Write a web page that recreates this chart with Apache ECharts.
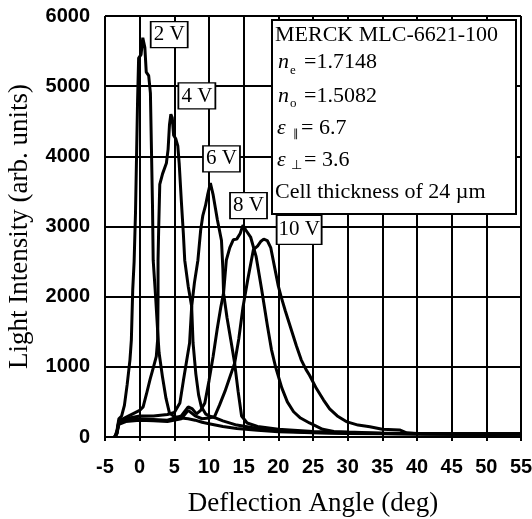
<!DOCTYPE html>
<html>
<head>
<meta charset="utf-8">
<script src="https://cdn.jsdelivr.net/npm/echarts@6/dist/echarts.min.js"></script>
<style>
  html, body { margin: 0; padding: 0; background: #fff; }
  #chart { width: 532px; height: 519px; }
</style>
</head>
<body>
<div id="chart"></div>
<script>
// deflection angle (deg), light intensity (arb. units) for each drive voltage
const curve2V = [[-3.6, 0], [-3.3, 80], [-3.0, 260], [-2.6, 300], [-2.2, 450], [-1.8, 750], [-1.4, 1100], [-1.2, 1380],
  [-1.0, 2100], [-0.8, 2500], [-0.6, 3200], [-0.45, 4000], [-0.3, 4800], [-0.15, 5400], [0.2, 5450], [0.45, 5690],
  [0.75, 5550], [0.95, 5200], [1.3, 5150], [1.55, 4900], [1.7, 4100], [1.85, 3300], [1.95, 2520], [2.3, 2000],
  [2.6, 1500], [2.8, 1200], [3.3, 850], [3.8, 550], [4.3, 340], [5, 290], [6, 270], [7, 260], [8, 240], [9, 210],
  [10, 190], [12, 150], [14, 120], [17, 95], [20, 75], [25, 60], [30, 50], [35, 45], [40, 40], [45, 40], [50, 35], [55, 40]]
const curve4V = [[-3.6, 0], [-3.3, 60], [-3.0, 230], [-2, 280], [-1, 330], [0, 380], [0.5, 430], [1.0, 620], [1.5, 820],
  [2.0, 1000], [2.4, 1150], [2.6, 1400], [2.65, 2000], [2.65, 2520], [2.75, 3000], [2.9, 3600], [3.3, 3750], [3.85, 3900],
  [4.1, 4100], [4.3, 4450], [4.5, 4600], [4.7, 4550], [4.9, 4300], [5.2, 4250], [5.5, 4150], [5.7, 3900], [6.0, 3380],
  [6.3, 2900], [6.5, 2520], [7.0, 2150], [7.5, 1860], [7.7, 1340], [8.1, 900], [8.5, 600], [8.9, 430], [9.5, 330],
  [10, 300], [11, 270], [12, 230], [14, 170], [17, 120], [20, 90], [25, 65], [30, 55], [35, 50], [40, 45], [45, 40], [50, 40], [55, 40]]
const curve6V = [[-3.6, 0], [-3.3, 50], [-3.0, 220], [-2, 260], [0, 300], [2, 300], [4, 320], [5, 350], [5.8, 485],
  [6.3, 800], [6.8, 1100], [7.2, 1340], [7.5, 1860], [7.9, 2200], [8.4, 2520], [8.8, 2950], [9.1, 3150], [9.5, 3300],
  [9.8, 3450], [10.2, 3620], [10.6, 3450], [11.2, 3100], [11.8, 2800], [12.0, 2400], [12.1, 2050], [12.6, 1700],
  [13.2, 1350], [13.7, 1050], [14.2, 650], [14.7, 300], [15.5, 200], [17, 150], [20, 110], [25, 80], [30, 60],
  [35, 55], [40, 50], [45, 45], [50, 45], [55, 45]]
const curve8V = [[-3.6, 0], [-3.3, 50], [-3.0, 200], [-2, 240], [0, 260], [2, 250], [4, 240], [6, 300], [7.0, 430],
  [7.6, 400], [8.2, 330], [8.8, 380], [9.4, 485], [10.0, 800], [10.6, 1150], [11.2, 1550], [11.7, 1850], [12.1, 2050],
  [12.5, 2520], [13.0, 2700], [13.5, 2810], [14.0, 2820], [14.5, 2900], [14.9, 3020], [15.3, 2950], [16.0, 2850],
  [16.8, 2570], [17.6, 2100], [18.4, 1600], [19.0, 1250], [19.6, 1000], [20.5, 700], [21.3, 500], [22.2, 360],
  [23.2, 270], [24.5, 200], [26.4, 110], [28, 80], [30, 70], [35, 55], [40, 50], [45, 45], [50, 45], [55, 45]]
const curve10V = [[-3.6, 0], [-3.3, 40], [-3.0, 180], [-2, 220], [0, 240], [2, 230], [4, 220], [6, 260], [7, 380],
  [8, 300], [9, 260], [10, 270], [10.8, 290], [11.5, 450], [12.3, 650], [13.0, 850], [13.7, 1050], [14.3, 1400],
  [14.9, 1850], [15.6, 2250], [16.4, 2670], [17.0, 2720], [17.5, 2790], [17.9, 2820], [18.4, 2800], [18.9, 2700],
  [19.5, 2400], [20.0, 2150], [20.4, 2000], [21.0, 1800], [21.8, 1550], [22.6, 1300], [23.3, 1100], [24.0, 960],
  [24.5, 880], [25.5, 690], [26.5, 530], [27.4, 400], [28.5, 300], [29.8, 220], [31.5, 170], [33.2, 147], [35, 110],
  [37.5, 100], [38.5, 60], [40, 50], [45, 45], [50, 45], [55, 45]]

// voltage tags, placed in data units
const tagText = ['2 V', '4 V', '6 V', '8 V', '10 V']
const tagAngle = [4.26, 8.25, 11.8, 15.7, 23.0]
const tagIntensity = [5735, 4860, 3963, 3298, 2953]

const infoLines = ['MERCK MLC-6621-100', '=1.7148', '=1.5082', '= 6.7', '= 3.6', 'Cell thickness of 24 µm']

const serif = '"Liberation Serif", "Times New Roman", serif'
const sans = '"Liberation Sans", Arial, sans-serif'

const chart = echarts.init(document.getElementById('chart'))

const curveSeries = [curve2V, curve4V, curve6V, curve8V, curve10V].map((d, i) => {
  return {
    type: 'line',
    name: tagText[i],
    data: d,
    showSymbol: false,
    silent: true,
    lineStyle: { color: '#000', width: 3 },
    z: 3
  }
})

// 标签方框
const tagSeries = {
  type: 'scatter',
  data: tagText.map((t, i) => [tagAngle[i], tagIntensity[i], t]),
  symbol: 'rect',
  symbolSize: (v) => v[2].length > 3 ? [45, 29] : [37, 26],
  itemStyle: { color: '#fff', borderColor: '#000', borderWidth: 1.5, opacity: 1 },
  label: {
    show: true,
    position: 'inside',
    formatter: (p) => p.data[2],
    color: '#000',
    fontFamily: serif,
    fontSize: 21
  },
  z: 5
}

// text box in the upper right (z set on every element, the group z does not reach them)
const t = (text, x, y, size, italic) => ({
  type: 'text',
  z: 101,
  style: {
    text: text,
    x: x,
    y: y,
    fill: '#000',
    font: (italic ? 'italic ' : '') + size + 'px ' + serif,
    verticalAlign: 'middle'
  }
})

const infoBox = {
  type: 'group',
  children: [
    {
      type: 'rect',
      z: 100,
      shape: { x: 272, y: 20, width: 244, height: 194 },
      style: { fill: '#fff', stroke: '#000', lineWidth: 2 }
    },
    t(infoLines[0], 275, 35, 22),
    t('n', 278, 62, 22, true), t('e', 290, 71, 13), t(infoLines[1], 304, 62, 22),
    t('n', 278, 96, 22, true), t('o', 290, 104, 13), t(infoLines[2], 304, 96, 22),
    t('ε', 277, 128, 22, true), t('∥', 293, 134, 11), t(infoLines[3], 301, 128, 22),
    t('ε', 277, 160, 22, true), t('⊥', 291, 166, 13), t(infoLines[4], 304, 160, 22),
    t(infoLines[5], 275, 192, 22)
  ]
}

const option = {
  animation: false,
  backgroundColor: '#fff',
  grid: {
    left: 105,
    right: 11,
    top: 16,
    bottom: 82,
    containLabel: false,
    outerBoundsMode: 'none'
  },
  xAxis: {
    type: 'value',
    min: -5,
    max: 55,
    interval: 5,
    name: 'Deflection Angle (deg)',
    nameLocation: 'middle',
    nameGap: 53,
    nameTextStyle: { fontFamily: serif, fontSize: 27, color: '#000' },
    axisLine: { show: true, onZero: false, lineStyle: { color: '#000', width: 2 } },
    axisTick: { show: true, length: 4, lineStyle: { color: '#000', width: 2 } },
    axisLabel: { color: '#000', fontFamily: sans, fontWeight: 'bold', fontSize: 20, margin: 20 },
    splitLine: { show: true, lineStyle: { color: '#000', width: 2, type: 'solid' } }
  },
  yAxis: {
    type: 'value',
    min: 0,
    max: 6000,
    interval: 1000,
    name: 'Light Intensity (arb. units)',
    nameLocation: 'middle',
    nameGap: 72,
    nameTextStyle: { fontFamily: serif, fontSize: 27, color: '#000' },
    axisLine: { show: true, lineStyle: { color: '#000', width: 2 } },
    axisTick: { show: false },
    axisLabel: {
      color: '#000',
      fontFamily: sans,
      fontWeight: 'bold',
      fontSize: 20,
      margin: 15,
      formatter: (v) => String(v)
    },
    splitLine: { show: true, lineStyle: { color: '#000', width: 2, type: 'solid' } }
  },
  series: curveSeries.concat([tagSeries]),
  graphic: [infoBox]
}

chart.setOption(option)
</script>
</body>
</html>
